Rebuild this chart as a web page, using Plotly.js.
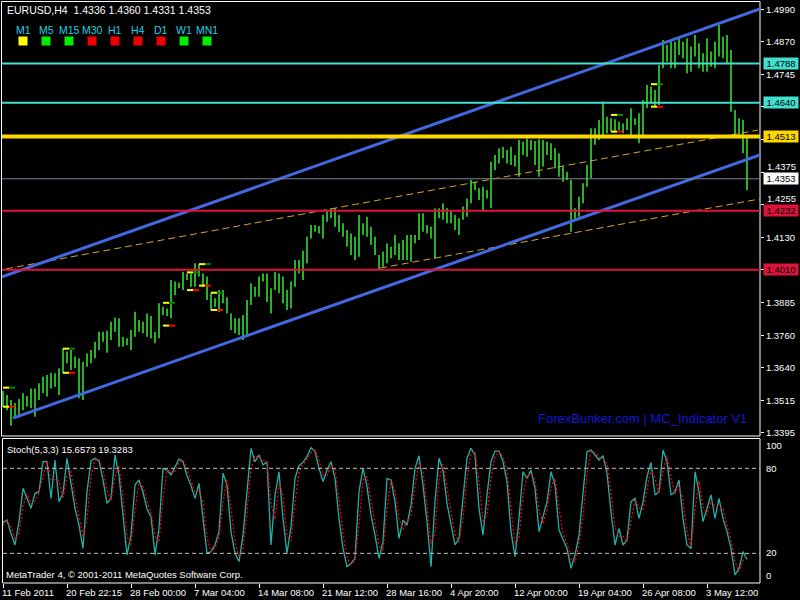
<!DOCTYPE html>
<html><head><meta charset="utf-8">
<script src="https://cdn.plot.ly/plotly-3.0.1.min.js"></script>
<style>html,body{margin:0;padding:0;background:#000;}#chart{width:800px;height:600px;}</style>
</head><body><div id="chart"></div>
<script>
// ---------------- DATA ----------------
const headerText = "EURUSD,H4\u00a0\u00a01.4336 1.4360 1.4331 1.4353";
const stochText = "Stoch(5,3,3) 15.6573 19.3283";
const copyrightText = "MetaTrader 4, \u00a9 2001-2011 MetaQuotes Software Corp.";
const watermarkText = "ForexBunker.com | MC_Indicator V1";

const timeLabels = ["11 Feb 2011","20 Feb 22:15","28 Feb 00:00","7 Mar 04:00","14 Mar 08:00","21 Mar 12:00","28 Mar 16:00","4 Apr 20:00","12 Apr 00:00","19 Apr 04:00","26 Apr 08:00","3 May 12:00"];
const timeLabelBars = [0,16,32,48,64,80,96,112,128,144,160,176];

const highs = [1.3552,1.3537,1.3518,1.3507,1.3522,1.3544,1.3533,1.3562,1.3562,1.3581,
1.3606,1.3613,1.3621,1.3619,1.3638,1.3713,1.3701,1.3707,1.3682,1.3676,
1.3663,1.3694,1.3707,1.3738,1.3776,1.3776,1.3780,1.3814,1.3830,1.3827,
1.3757,1.3751,1.3782,1.3851,1.3820,1.3814,1.3845,1.3835,1.3776,1.3883,
1.3870,1.3864,1.3971,1.3965,1.3961,1.4002,1.3996,1.3996,1.4034,1.4030,
1.3996,1.3984,1.3921,1.3902,1.3933,1.3933,1.3906,1.3845,1.3827,1.3827,
1.3839,1.3896,1.3959,1.3946,1.3984,1.3996,1.3996,1.3940,1.4002,1.3996,
1.3984,1.3933,1.3965,1.4047,1.4047,1.4081,1.4134,1.4179,1.4179,1.4175,
1.4216,1.4235,1.4242,1.4242,1.4216,1.4185,1.4160,1.4147,1.4134,1.4216,
1.4185,1.4210,1.4172,1.4134,1.4065,1.4078,1.4110,1.4097,1.4141,1.4110,
1.4122,1.4141,1.4141,1.4141,1.4223,1.4223,1.4179,1.4172,1.4242,1.4242,
1.4261,1.4242,1.4235,1.4216,1.4204,1.4248,1.4279,1.4348,1.4342,1.4317,
1.4323,1.4311,1.4417,1.4443,1.4468,1.4473,1.4462,1.4474,1.4443,1.4499,
1.4493,1.4505,1.4499,1.4496,1.4502,1.4499,1.4493,1.4487,1.4468,1.4449,
1.4399,1.4380,1.4348,1.4242,1.4285,1.4336,1.4405,1.4544,1.4544,1.4575,
1.4644,1.4587,1.4581,1.4578,1.4568,1.4562,1.4581,1.4619,1.4581,1.4600,
1.4650,1.4707,1.4700,1.4688,1.4782,1.4877,1.4858,1.4877,1.4870,1.4883,
1.4870,1.4883,1.4852,1.4896,1.4864,1.4827,1.4883,1.4833,1.4870,1.4933,
1.4889,1.4896,1.4839,1.4613,1.4581,1.4575,1.4518];

const lows = [1.3493,1.3480,1.3421,1.3455,1.3462,1.3480,1.3493,1.3487,1.3455,1.3518,
1.3544,1.3531,1.3562,1.3568,1.3537,1.3619,1.3657,1.3631,1.3638,1.3525,
1.3518,1.3644,1.3657,1.3676,1.3707,1.3738,1.3697,1.3745,1.3776,1.3719,
1.3719,1.3725,1.3707,1.3757,1.3776,1.3770,1.3757,1.3751,1.3732,1.3751,
1.3839,1.3835,1.3827,1.3914,1.3940,1.3933,1.3971,1.3946,1.3946,1.3984,
1.3946,1.3896,1.3858,1.3870,1.3851,1.3883,1.3845,1.3782,1.3770,1.3764,
1.3745,1.3757,1.3877,1.3908,1.3908,1.3965,1.3889,1.3845,1.3933,1.3921,
1.3883,1.3858,1.3864,1.3946,1.3996,1.3971,1.4034,1.4128,1.4153,1.4147,
1.4128,1.4191,1.4204,1.4172,1.4153,1.4134,1.4097,1.4065,1.4047,1.4059,
1.4141,1.4134,1.4103,1.4065,1.4009,1.4021,1.4034,1.4053,1.4065,1.4047,
1.4047,1.4047,1.4040,1.4110,1.4122,1.4153,1.4147,1.4128,1.4053,1.4204,
1.4198,1.4185,1.4185,1.4160,1.4141,1.4198,1.4210,1.4261,1.4311,1.4273,
1.4229,1.4279,1.4242,1.4386,1.4411,1.4431,1.4411,1.4405,1.4399,1.4361,
1.4443,1.4436,1.4462,1.4405,1.4361,1.4399,1.4443,1.4424,1.4393,1.4361,
1.4342,1.4348,1.4153,1.4198,1.4210,1.4261,1.4323,1.4355,1.4481,1.4499,
1.4518,1.4525,1.4531,1.4528,1.4537,1.4525,1.4537,1.4518,1.4556,1.4487,
1.4518,1.4619,1.4638,1.4625,1.4631,1.4770,1.4795,1.4770,1.4770,1.4820,
1.4808,1.4751,1.4757,1.4814,1.4770,1.4757,1.4757,1.4776,1.4770,1.4814,
1.4808,1.4789,1.4606,1.4518,1.4518,1.4449,1.4311];

const stochK = [41.9,43.5,34,25.9,42.4,65.9,58.8,51.8,62.4,63.5,
84.7,84.7,58.8,85.9,56.5,62.4,87.1,68.2,51.8,40,
23.5,63.5,85.2,87.1,85.2,71.8,55.3,58.8,89.4,75.3,
44.7,18.8,32.9,68.2,71.8,63.1,51.3,45.9,18.8,37.6,
80,78.8,75.3,81.2,86.6,84.7,74.8,67.8,58.8,69.4,
42.4,20,21.2,25.9,35.3,76.5,68.2,35.3,20,14.1,
32.9,65.9,94.1,84.7,89.4,82.4,84.7,25.9,61.2,77.6,
44.7,20,38.8,72.9,81.9,84.2,88.2,94.6,91.8,80,
70.6,78.8,84.7,72.9,44.7,23.5,10.6,12.9,16.5,63.5,
80,67.1,47.1,32.9,16.5,28.2,72.9,71.8,56.5,30.6,
43.5,40,54.1,80,88.9,68.2,42.4,10.6,56.5,87.1,
78.8,55.3,40,25.9,30.6,58.8,87.1,94.1,89.4,51.8,
32.9,61.2,84.7,92.2,92.2,84.7,70.6,35.3,17.6,44.7,
77.6,72.9,78.8,65.9,35.3,45.9,56.5,77.6,68.2,36.5,
30.6,23.5,9.4,18.8,32.9,60,91.8,92.9,89.4,85.9,
88.9,76.5,49.4,25.9,37.6,25.9,29.4,56.5,58.8,44.7,
56.5,74.1,84.2,61.2,63.5,92.9,84.7,61.2,63.5,71.8,
44.7,25.9,23.5,77.6,63.5,42.4,51.8,61.2,44.7,58.8,
44.7,35.3,23.5,4.7,9.4,21.2,15.66];

const stochD = [40,43,39,30,34,54,62,55,57,63,
74,85,72,72,71,59,75,78,60,46,
32,44,74,86,86,79,64,57,74,82,
60,32,26,51,70,67,57,49,32,28,
59,79,77,78,84,86,80,71,63,64,
56,31,21,24,31,56,72,52,28,17,
24,49,80,89,87,86,84,55,44,69,
61,32,29,56,77,83,86,91,93,86,
75,75,82,79,59,34,17,12,15,40,
72,74,57,40,25,22,51,72,64,44,
37,42,47,67,84,79,55,27,34,72,
83,67,48,33,28,45,73,91,92,71,
42,47,73,88,92,88,78,53,26,31,
61,75,76,72,51,41,51,67,73,52,
34,27,16,14,26,46,76,92,91,88,
87,83,63,38,32,32,28,43,58,52,
51,65,79,73,62,78,89,73,62,68,
58,35,25,51,71,53,47,57,53,52,
52,40,29,14,7,15,19.33];

// price scale ticks; labels fully hidden behind level boxes in the reference are left blank,
// partly hidden ones are drawn just above their box
const priceTicks = [1.4990,1.4870,1.4745,1.4625,1.4500,1.4375,1.4255,1.4130,1.4010,1.3885,1.3760,1.3640,1.3515,1.3395];
const priceTickText = ["1.4990","1.4870","1.4745","","","","","1.4130","","1.3885","1.3760","1.3640","1.3515","1.3395"];
const partialTicks = [1.4375,1.4255];
const partialTickText = ["1.4375","1.4255"];

const levelPrices = [1.4788,1.4640,1.4513,1.4353,1.4232,1.4010];
const levelLabels = ["1.4788","1.4640","1.4513","1.4353","1.4232","1.4010"];
const levelColors = ["#40E0D0","#40E0D0","#FFD700","#778899","#DC143C","#DC143C"];
const levelLabelBg = ["#40E0D0","#40E0D0","#FFD700","#FFFFFF","#DC143C","#DC143C"];
const levelWidths = [2,2,4,1,2,2];

// trend lines: [startBar, startPrice, endBar, endPrice]
const channelUpper = [-0.25,1.3983,189.25,1.4994];
const channelLower = [2.5,1.3450,189.25,1.4443];
const dashedMid = [0.75,1.4013,188.75,1.4537];
const dashedLow = [94.25,1.4016,189.25,1.4277];

// timeframe high/low boxes
const boxBars = [0,15,40,46,49,52,152,162];
const boxHighs = [1.3565,1.3712,1.3885,1.4000,1.4031,1.3923,1.4594,1.4710];
const boxLows = [1.3493,1.3621,1.3799,1.3933,1.3950,1.3858,1.4531,1.4625];

const tfLabels = ["M1","M5","M15","M30","H1","H4","D1","W1","MN1"];
const tfColors = ["#FFFF00","#00EE00","#00EE00","#EE0000","#EE0000","#EE0000","#EE0000","#00EE00","#00EE00"];

const stochLevels = [80,20];
const stochLabels = ["100","80","20","0"];
const stochLabelVals = [96,80,20.5,4.2];

// ---------------- BUILD ----------------
const FONT = "Liberation Sans, Arial, sans-serif";
const px = x => x/800;
const py = y => 1 - y/600;

const barX = [], barY = [];
for (let i = 0; i < highs.length; i++) { barX.push(i, i, null); barY.push(lows[i], highs[i], null); }
const idx = stochK.map((_, i) => i);

const yx = [], yy = [], gx = [], gy = [], rx = [], ry = [];
boxBars.forEach((b, k) => {
  yx.push(b, b + 1.5, null, b, b + 1.5, null);
  yy.push(boxHighs[k], boxHighs[k], null, boxLows[k], boxLows[k], null);
  gx.push(b + 1.5, b + 3, null); gy.push(boxHighs[k], boxHighs[k], null);
  rx.push(b + 1.5, b + 3, null); ry.push(boxLows[k], boxLows[k], null);
});

const traces = [
  {x: barX, y: barY, type: 'scatter', mode: 'lines', line: {color: '#33DD33', width: 1.6}, xaxis: 'x', yaxis: 'y', hoverinfo: 'skip'},
  {x: yx, y: yy, type: 'scatter', mode: 'lines', line: {color: '#FFFF00', width: 2}, xaxis: 'x', yaxis: 'y', hoverinfo: 'skip'},
  {x: gx, y: gy, type: 'scatter', mode: 'lines', line: {color: '#008800', width: 2}, xaxis: 'x', yaxis: 'y', hoverinfo: 'skip'},
  {x: rx, y: ry, type: 'scatter', mode: 'lines', line: {color: '#FF0000', width: 2}, xaxis: 'x', yaxis: 'y', hoverinfo: 'skip'},
  {x: idx, y: stochK, type: 'scatter', mode: 'lines', line: {color: '#20B2AA', width: 1.3}, xaxis: 'x2', yaxis: 'y2', hoverinfo: 'skip'},
  {x: idx, y: stochD, type: 'scatter', mode: 'lines', line: {color: '#FF0000', width: 1.3, dash: '2px,2px'}, xaxis: 'x2', yaxis: 'y2', hoverinfo: 'skip'}
];

const shapes = [];
// panel borders
shapes.push({type: 'rect', xref: 'paper', yref: 'paper', x0: px(1.5), x1: px(760), y0: py(436), y1: py(1.5), line: {color: '#FFFFFF', width: 1}});
shapes.push({type: 'rect', xref: 'paper', yref: 'paper', x0: px(2.5), x1: px(760), y0: py(583), y1: py(438.5), line: {color: '#FFFFFF', width: 1}});
// trend lines
const trend = (t, color, width, dash) => ({type: 'line', xref: 'x', yref: 'y', x0: t[0], y0: t[1], x1: t[2], y1: t[3], line: {color: color, width: width, dash: dash || 'solid'}});
shapes.push(trend(dashedMid, '#DAA520', 1, '7px,4px'));
shapes.push(trend(dashedLow, '#DAA520', 1, '7px,4px'));
shapes.push(trend(channelUpper, '#4169E1', 3));
shapes.push(trend(channelLower, '#4169E1', 3));
// level lines
levelPrices.forEach((p, k) => shapes.push({type: 'line', xref: 'paper', yref: 'y', x0: px(2), x1: px(760), y0: p, y1: p, line: {color: levelColors[k], width: levelWidths[k]}}));
// stoch levels
stochLevels.forEach(v => shapes.push({type: 'line', xref: 'paper', yref: 'y2', x0: px(3), x1: px(760), y0: v, y1: v, line: {color: '#C0C0C0', width: 1, dash: '4px,3px'}}));
// timeframe squares
tfColors.forEach((c, k) => {
  const cx = 23 + 23 * k;
  shapes.push({type: 'rect', xref: 'paper', yref: 'paper', x0: px(cx - 4.5), x1: px(cx + 4.5), y0: py(45.5), y1: py(36.5), fillcolor: c, line: {width: 0}});
});

const annotations = [];
const txt = (text, x, y, size, color, anchor) => ({text: text, xref: 'paper', yref: 'paper', x: px(x), y: py(y), xanchor: anchor || 'left', yanchor: 'middle', showarrow: false, font: {family: FONT, size: size, color: color}});
annotations.push(txt(headerText, 5, 10, 10.5, '#FFFFFF'));
tfLabels.forEach((t, k) => annotations.push(txt(t, 23 + 23 * k, 30, 10.5, '#20D0E0', 'center')));
annotations.push(txt(stochText, 5, 449, 9.5, '#FFFFFF'));
annotations.push(txt(copyrightText, 4, 574, 9.5, '#FFFFFF'));
annotations.push(txt(watermarkText, 749, 418, 13, '#1414D8', 'right'));
timeLabels.forEach((t, k) => annotations.push({text: t, xref: 'x2', yref: 'paper', x: timeLabelBars[k], y: py(592), xanchor: 'left', yanchor: 'middle', xshift: -3, showarrow: false, font: {family: FONT, size: 9.5, color: '#FFFFFF'}}));
stochLabels.forEach((t, k) => annotations.push({text: t, xref: 'paper', yref: 'y2', x: px(764), y: stochLabelVals[k], xanchor: 'left', yanchor: 'middle', showarrow: false, font: {family: FONT, size: 9.5, color: '#FFFFFF'}}));
partialTicks.forEach((p, k) => annotations.push({text: partialTickText[k], xref: 'paper', yref: 'y', x: px(765), y: p, xanchor: 'left', yanchor: 'bottom', yshift: -1, showarrow: false, font: {family: FONT, size: 9.5, color: '#FFFFFF'}}));
levelPrices.forEach((p, k) => annotations.push({text: levelLabels[k], xref: 'paper', yref: 'y', x: px(762.5), y: p, xanchor: 'left', yanchor: 'middle', showarrow: false, bgcolor: levelLabelBg[k], borderpad: 0, width: 34, height: 11, align: 'center', font: {family: FONT, size: 9.5, color: '#000000'}}));

const layout = {
  width: 800, height: 600,
  margin: {l: 0, r: 0, t: 0, b: 0},
  paper_bgcolor: '#000000', plot_bgcolor: '#000000',
  showlegend: false,
  xaxis: {domain: [px(2), px(760)], range: [-0.25, 189.25], showgrid: false, zeroline: false, showticklabels: false, ticks: '', anchor: 'y'},
  yaxis: {domain: [py(436), py(1)], range: [1.33824, 1.50239], side: 'right', anchor: 'x', showgrid: false, zeroline: false,
          tickvals: priceTicks, ticktext: priceTickText, ticks: 'outside', ticklen: 3, tickcolor: '#FFFFFF',
          tickfont: {family: FONT, size: 9.5, color: '#FFFFFF'}},
  xaxis2: {domain: [px(2), px(760)], range: [-0.25, 189.25], anchor: 'y2', showgrid: false, zeroline: false, showticklabels: false,
           tickvals: timeLabelBars, ticks: 'outside', ticklen: 4, tickcolor: '#FFFFFF', showline: false},
  yaxis2: {domain: [py(583), py(438.5)], range: [-0.92, 101.06], anchor: 'x2', side: 'right', showgrid: false, zeroline: false, showticklabels: false, ticks: ''},
  shapes: shapes,
  annotations: annotations
};

Plotly.newPlot('chart', traces, layout, {staticPlot: true, displayModeBar: false});
</script>
</body></html>
